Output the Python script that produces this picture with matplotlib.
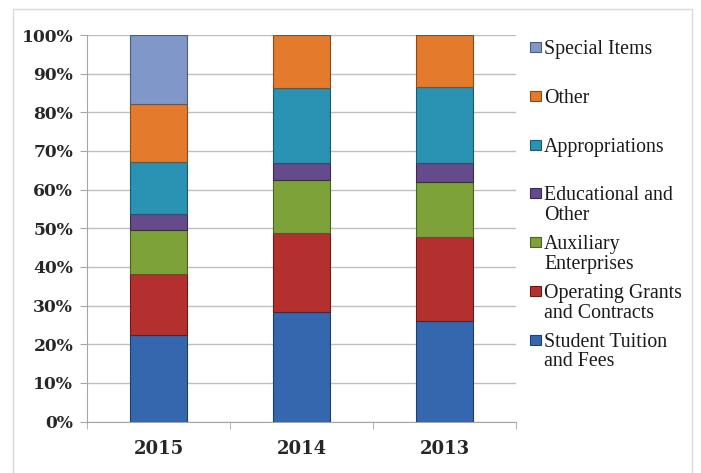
import numpy as np
import matplotlib.pyplot as plt
from matplotlib.patches import Rectangle
from matplotlib.ticker import PercentFormatter

# revenue share by source, bottom to top of each stack
years = ['2015', '2014', '2013']
student_tuition = [22.4, 28.4, 26.1]
operating_grants = [15.8, 20.3, 21.6]
auxiliary = [11.3, 13.8, 14.3]
educational = [4.1, 4.5, 5.0]
appropriations = [13.6, 19.2, 19.5]
other = [14.9, 13.8, 13.5]
special_items = [17.9, 0.0, 0.0]

labels = ['Student Tuition\nand Fees', 'Operating Grants\nand Contracts',
          'Auxiliary\nEnterprises', 'Educational and\nOther',
          'Appropriations', 'Other', 'Special Items']
colors = ['#3467ad', '#b3302e', '#7ea23a', '#654a8c', '#2a92b2', '#e47a2b', '#7f98c9']
edges = ['#1f3f6b', '#6d1c1b', '#4a6122', '#3b2b52', '#1a5a6c', '#8a4a1a', '#4b5c7c']

series = [student_tuition, operating_grants, auxiliary, educational,
          appropriations, other, special_items]

fig = plt.figure(figsize=(7.01, 4.73), dpi=100)
ax = fig.add_axes([87 / 701, 51.5 / 473, 429 / 701, 386.5 / 473])

x = np.arange(len(years))
totals = np.sum(series, axis=0)
bottom = np.zeros(len(years))
for vals, c, ec in zip(series, colors, edges):
    share = np.array(vals) / totals * 100
    ax.bar(x, share, width=0.4, bottom=bottom, color=c, edgecolor=ec,
           linewidth=0.8, zorder=3)
    bottom += share

ax.set_xlim(-0.5, 2.5)
ax.set_ylim(0, 100)
ax.set_yticks(np.arange(0, 101, 10))
ax.yaxis.set_major_formatter(PercentFormatter(decimals=0))
ax.set_xticks(x)
ax.set_xticklabels(years)
ax.set_xticks([-0.5, 0.5, 1.5, 2.5], minor=True)
ax.tick_params(axis='x', which='major', length=0, pad=13)
ax.tick_params(axis='x', which='minor', length=5, color='#a6a6a6')
ax.tick_params(axis='y', length=5, color='#a6a6a6', pad=5)
for lab in ax.get_xticklabels() + ax.get_yticklabels():
    lab.set_fontfamily('DejaVu Serif')
    lab.set_fontweight('bold')
    lab.set_color('#262626')
for lab in ax.get_xticklabels():
    lab.set_fontsize(13)
for lab in ax.get_yticklabels():
    lab.set_fontsize(12.3)

ax.grid(axis='y', color='#bfbfbf', linewidth=1, zorder=0)
for side in ['top', 'right']:
    ax.spines[side].set_visible(False)
ax.spines['left'].set_color('#a6a6a6')
ax.spines['bottom'].set_color('#a6a6a6')

# legend, top entry first, one slot per entry
legend_top = 47
step = 48.8
for i, (lab, c, ec) in enumerate(zip(labels[::-1], colors[::-1], edges[::-1])):
    yc = 473 - (legend_top + i * step)
    fig.patches.append(Rectangle((530 / 701, (yc - 5) / 473), 11 / 701, 10 / 473,
                                 transform=fig.transFigure, facecolor=c,
                                 edgecolor=ec, linewidth=0.8))
    fig.text(544 / 701, (yc + 7) / 473, lab, ha='left', va='top',
             fontfamily='Liberation Serif', fontsize=14.3, color='#1a1a1a',
             linespacing=1.05)

# outer chart frame
fig.patches.append(Rectangle((13 / 701, -0.05), 679 / 701, 1.05 - 9 / 473,
                             transform=fig.transFigure, fill=False,
                             edgecolor='#d9d9d9', linewidth=1))

fig.savefig('out.png', dpi=100)
